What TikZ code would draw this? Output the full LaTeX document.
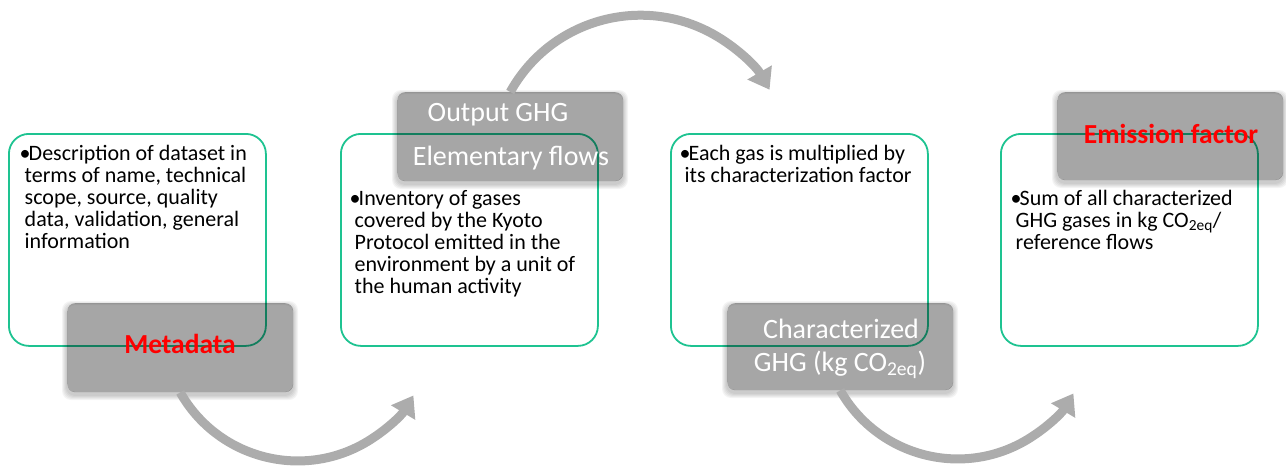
\documentclass[tikz,border=0pt]{standalone}
\usepackage{fontspec}
\setmainfont{Carlito}
\usetikzlibrary{arrows.meta}
\definecolor{gborder}{RGB}{30,195,145}
\definecolor{lblgray}{RGB}{166,166,166}
\definecolor{arrgray}{RGB}{172,172,172}
\definecolor{lblred}{RGB}{255,0,0}
\newcommand\lblshadow[4]{\foreach \e in {1,2,3,4,5}{\fill[black,opacity=0.045,even odd rule] [rounded corners=9pt] (#1-\e,#2-\e+3) rectangle (#3+\e,#4+\e+3) [rounded corners=8pt] (#1,#2) rectangle (#3,#4);}}
\newcommand\bul{\makebox[9pt][l]{•}}
\newcommand\cont{\hspace*{5pt}}
\begin{document}
\begin{tikzpicture}[x=1pt,y=-1pt,
  infobox/.style={draw=gborder, line width=1.8pt, rounded corners=20pt, minimum width=257pt, minimum height=212pt, anchor=north west, inner sep=0pt},
  lblbox/.style={fill=lblgray, rounded corners=8pt, minimum width=226pt, minimum height=89pt, anchor=north west, inner sep=0pt},
  body/.style={anchor=base west, inner sep=0pt, font=\fontsize{22pt}{22pt}\selectfont},
  lbltext/.style={anchor=base, inner sep=0pt, text=white, font=\fontsize{28pt}{30pt}\selectfont},
  lblredtext/.style={anchor=base, inner sep=0pt, text=lblred, font=\fontsize{27.5pt}{30pt}\selectfont\bfseries},
  flowarrow/.style={draw=arrgray, line width=9pt, -{Triangle[width=27pt,length=20pt]}}]
\useasboundingbox (0,0) rectangle (1286,466);
% green boxes
\node[infobox] (b1) at (8,133) {};
\node[infobox] (b2) at (340,133) {};
\node[infobox] (b3) at (670,133) {};
\node[infobox] (b4) at (1000,133) {};
% shadows of label boxes
\lblshadow{67}{303}{293}{392}
\lblshadow{397}{92}{623}{181}
\lblshadow{727}{303}{953}{390}
\lblshadow{1057}{92}{1283}{180}
% gray label boxes
\begin{scope}[blend mode=multiply]
\node[lblbox] (meta) at (67,303) {};
\node[lblbox] (out) at (397,92) {};
\node[lblbox, minimum height=87pt] (char) at (727,303) {};
\node[lblbox, minimum height=88pt] (emis) at (1057,92) {};
\end{scope}
% body texts
\node[body] (t1) at (19.5,160.5) {\parbox[t]{250pt}{\raggedright\bul Description of dataset in\\\cont terms of name, technical\\\cont scope, source, quality\\\cont data, validation, general\\\cont information}};
\node[body] (t2) at (349.5,205) {\parbox[t]{250pt}{\raggedright\bul Inventory of gases\\\cont covered by the Kyoto\\\cont Protocol emitted in the\\\cont environment by a unit of\\\cont the human activity}};
\node[body] (t3) at (679.5,160.5) {\parbox[t]{250pt}{\raggedright\bul Each gas is multiplied by\\\cont its characterization factor}};
\node[body] (t4) at (1010.5,205) {\parbox[t]{250pt}{\raggedright\bul Sum of all characterized\\\cont GHG gases in kg CO\textsubscript{2eq}/\\\cont reference flows}};
% label texts
\node[lblredtext] (l1) at (180,353) {Metadata};
\node[lbltext] (l2a) at (498,121.7) {Output GHG};
\node[lbltext] (l2b) at (511,165) {Elementary flows};
\node[lbltext] (l3a) at (841,338) {Characterized};
\node[lbltext] (l3b) at (840,371.7) {GHG (kg CO\textsubscript{2eq})};
\node[lblredtext] (l4) at (1171,143) {Emission factor};
% curved arrows
\draw[flowarrow] (meta.south) arc[start angle=150.5, end angle=31, radius=135];
\draw[flowarrow] (out.north) arc[start angle=-151, end angle=-30, radius=149];
\draw[flowarrow] (char.south) arc[start angle=150.5, end angle=31, radius=135];
\end{tikzpicture}
\end{document}
